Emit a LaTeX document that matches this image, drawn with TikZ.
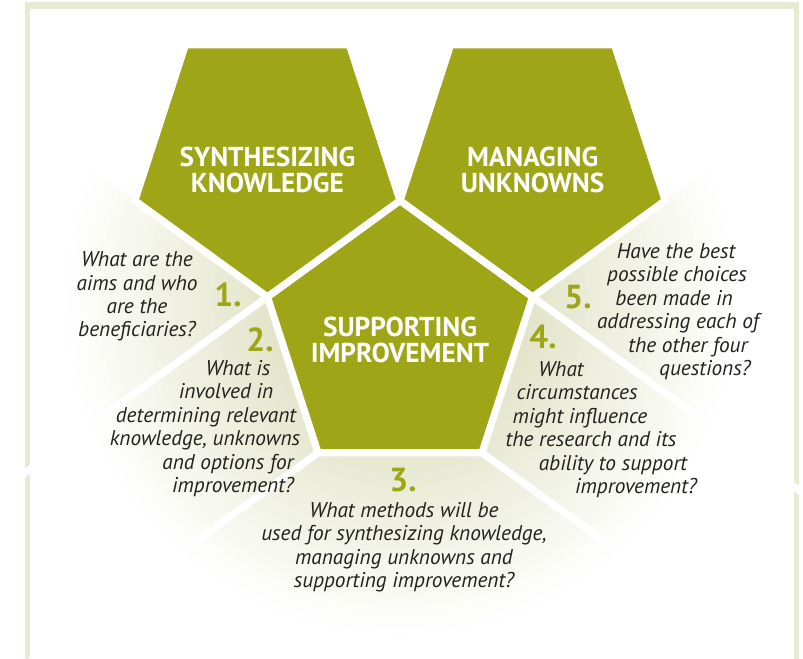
\documentclass[tikz,border=0pt]{standalone}
\usepackage{fontspec}
\setmainfont{PT Sans}
\usetikzlibrary{shapes.geometric}

\definecolor{pentgreen}{RGB}{158,166,24}
\definecolor{fancore}{RGB}{208,211,166}
\definecolor{framebeige}{RGB}{232,234,212}
\definecolor{inktext}{RGB}{34,34,30}

\tikzset{
    pent/.style={regular polygon, regular polygon sides=5, minimum size=209.1pt,
        inner sep=0pt, outer sep=0pt, fill=pentgreen, draw=white, line width=5.4pt},
    gapline/.style={draw=white, line width=5.4pt},
    head/.style={text=white, align=center, font=\bfseries\fontsize{20.5}{19.5}\selectfont},
    num/.style={text=pentgreen, font=\bfseries\fontsize{25}{25}\selectfont},
    quest/.style={text=inktext, align=center, font=\itshape\fontsize{16}{17.6}\selectfont}
}

\begin{document}
\begin{tikzpicture}[x=0.75pt, y=-0.75pt]
    \useasboundingbox (0,0) rectangle (803,659);
    \fill[framebeige] (25,2) rectangle (799,659);
    \fill[white] (30,9) rectangle (794,659);

    % fan below the two upper pentagons, fading out to white at 255pt
    \begin{scope}
        \clip (30,124.5) -- (267.4,296.9) -- (400,200.6) -- (532.6,296.9) -- (794,107.1)
            -- (794,659) -- (30,659) -- cycle;
        \foreach \r in {255,250,...,5} {
            \pgfmathtruncatemacro\mix{100-\r/2.55}
            \fill[fancore!\mix!white] (400,300) circle (\r pt);
        }
    \end{scope}

    % the three pentagons
    \node[pent] (support) at (400,340) {};
    \node[pent, shape border rotate=180] (synth) at (267.4,157.5) {};
    \node[pent, shape border rotate=180] (manage) at (532.6,157.5) {};

    % white gaps between the questions
    \draw[gapline] (support.corner 2) -- ++(-324,235);
    \draw[gapline] (support.corner 3) -- ++(-324,235);
    \draw[gapline] (support.corner 4) -- ++(324,235);
    \draw[gapline] (support.corner 5) -- ++(324,235);

    \node[head, yshift=-9pt] (synthtext) at (synth) {SYNTHESIZING\\KNOWLEDGE};
    \node[head, yshift=-9pt] (managetext) at (manage) {MANAGING\\UNKNOWNS};
    \node[head] (supporttext) at (support) {SUPPORTING\\IMPROVEMENT};

    \node[num] (n1) at (228,295) {1.};
    \node[num] (n2) at (260,340) {2.};
    \node[num] (n3) at (403,480) {3.};
    \node[num] (n4) at (543,337) {4.};
    \node[num] (n5) at (578,297) {5.};

    \node[quest] (q1) at (137,296.5) {What are the\\aims and who\\are the\\beneficiaries?};
    \node[quest] (q2) at (222,428.5) {\hspace*{24pt}What is\\\hspace*{6pt}involved in\\
        \hspace*{-24pt}determining relevant\\\hspace*{-25.5pt}knowledge, unknowns\\
        \hspace*{9pt}and options for\\\hspace*{16.5pt}improvement?};
    \node[quest] (q3) at (404,547) {What methods will be\\used for synthesizing knowledge,\\
        managing unknowns and\\supporting improvement?};
    \node[quest] (q4) at (593,429.5) {\hspace*{-48pt}What\\\hspace*{-24pt}circumstances\\
        \hspace*{-19.5pt}might influence\\\hspace*{-3pt}the research and its\\
        \hspace*{30pt}ability to support\\\hspace*{64.5pt}improvement?};
    \node[quest] (q5) at (681,311.5) {\hspace*{-7.5pt}Have the best\\\hspace*{-6pt}possible choices\\
        \hspace*{-10.5pt}been made in\\\hspace*{-4.5pt}addressing each of\\
        \hspace*{10.5pt}the other four\\\hspace*{36pt}questions?};
\end{tikzpicture}
\end{document}
